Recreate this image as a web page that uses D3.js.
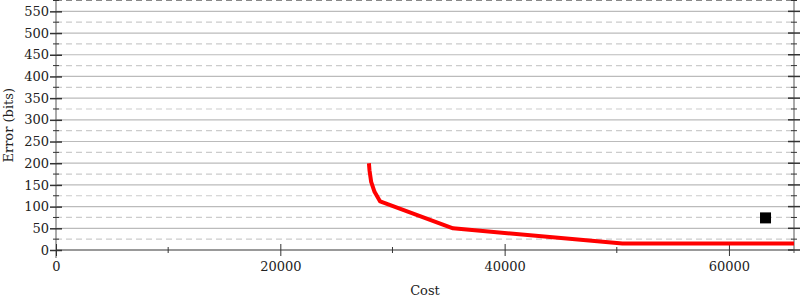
<!DOCTYPE html>
<html>
<head>
<meta charset="utf-8">
<script src="https://cdn.jsdelivr.net/npm/d3@7"></script>
<style>
  body { margin: 0; background: #fff; }
  svg text { font-family: "DejaVu Serif", serif; font-size: 13px; fill: #222; }
</style>
</head>
<body>
<div id="main-container"></div>
<script>
// Data
const costValues = [27900, 27950, 28100, 28400, 28900, 35400, 50500, 65800];
const errorValues = [200, 184, 157, 134, 112, 50, 15, 15];
const pointCost = [63260];
const pointError = [74];
const xTickValues = [0, 20000, 40000, 60000];
const xMinorTicks = [10000, 30000, 50000];
const yTickValues = [0, 50, 100, 150, 200, 250, 300, 350, 400, 450, 500, 550];
const yMinorTicks = [25, 75, 125, 175, 225, 275, 325, 375, 425, 475, 525, 575];

const SVG_WIDTH = 800;
const SVG_HEIGHT = 300;
const MARGIN = { top: 0, right: 6, bottom: 50, left: 56 };

const SVG = d3.select('#main-container').append('svg')
    .attr('width', SVG_WIDTH)
    .attr('height', SVG_HEIGHT);

const x = d3.scaleLinear()
    .domain([0, 65800])
    .range([MARGIN.left, SVG_WIDTH - MARGIN.right]);
const y = d3.scaleLinear()
    .domain([0, 575])
    .range([SVG_HEIGHT - MARGIN.bottom, MARGIN.top + 0.5]);

// Grid lines
SVG.append('g').selectAll('line')
    .data(yTickValues.slice(1))
    .enter().append('line')
    .attr('x1', x(0)).attr('x2', x(65800))
    .attr('y1', d => y(d)).attr('y2', d => y(d))
    .attr('stroke', '#bbb').attr('stroke-width', 1.2);
SVG.append('g').selectAll('line')
    .data(yMinorTicks)
    .enter().append('line')
    .attr('x1', x(0)).attr('x2', x(65800))
    .attr('y1', d => y(d)).attr('y2', d => y(d))
    .attr('stroke', d => d === 575 ? '#888' : '#ccc')
    .attr('stroke-width', 1.2)
    .attr('stroke-dasharray', '6,4');

// Axes lines
SVG.append('line')
    .attr('x1', x(0)).attr('x2', x(0))
    .attr('y1', y(575) - 1).attr('y2', y(0) + 8)
    .attr('stroke', '#aaa').attr('stroke-width', 2);
SVG.append('line')
    .attr('x1', x(65800)).attr('x2', x(65800))
    .attr('y1', y(575) - 1).attr('y2', y(0) + 3)
    .attr('stroke', '#aaa').attr('stroke-width', 2);
SVG.append('line')
    .attr('x1', x(0)).attr('x2', x(65800))
    .attr('y1', y(0)).attr('y2', y(0))
    .attr('stroke', '#999').attr('stroke-width', 2);

// Left axis
const yAxis = d3.axisLeft(y).tickValues(yTickValues).tickSize(6).tickPadding(3);
const yAxisG = SVG.append('g')
    .attr('transform', `translate(${x(0)},0)`)
    .call(yAxis);
yAxisG.select('.domain').remove();
yAxisG.selectAll('.tick line').attr('x2', 6).attr('x1', -6).attr('stroke', '#333').attr('stroke-width', 1.5);
yAxisG.selectAll('.tick text').attr('x', -7).style('font-size', '13px').attr('fill', '#222');
yAxisG.selectAll('.minor').data(yMinorTicks).enter().append('line')
    .attr('x1', -3).attr('x2', 3)
    .attr('y1', d => y(d)).attr('y2', d => y(d))
    .attr('stroke', '#333');

// Right axis (ticks only)
const rightG = SVG.append('g').attr('transform', `translate(${x(65800)},0)`);
rightG.selectAll('.maj').data(yTickValues).enter().append('line')
    .attr('x1', -6).attr('x2', 6)
    .attr('y1', d => y(d)).attr('y2', d => y(d))
    .attr('stroke', '#333').attr('stroke-width', 1.5);
rightG.selectAll('.min').data(yMinorTicks).enter().append('line')
    .attr('x1', -3).attr('x2', 3)
    .attr('y1', d => y(d)).attr('y2', d => y(d))
    .attr('stroke', '#333');

// Bottom axis
const xAxis = d3.axisBottom(x).tickValues(xTickValues).tickFormat(d3.format('d')).tickSize(6).tickPadding(6);
const xAxisG = SVG.append('g')
    .attr('transform', `translate(0,${y(0)})`)
    .call(xAxis);
xAxisG.select('.domain').remove();
xAxisG.selectAll('.tick line').attr('y1', -6).attr('y2', 6).attr('stroke', '#333');
xAxisG.selectAll('.tick text').style('font-size', '13px').attr('fill', '#222');
xAxisG.selectAll('.minor').data(xMinorTicks).enter().append('line')
    .attr('x1', d => x(d)).attr('x2', d => x(d))
    .attr('y1', -3).attr('y2', 3)
    .attr('stroke', '#333');

// Axis titles
SVG.append('text')
    .attr('x', (x(0) + x(65800)) / 2)
    .attr('y', 295)
    .attr('text-anchor', 'middle')
    .text('Cost');
SVG.append('text')
    .attr('transform', `translate(13,${(y(0) + y(575)) / 2}) rotate(-90)`)
    .attr('text-anchor', 'middle')
    .text('Error (bits)');

// Line
const lineData = costValues.map((c, i) => [c, errorValues[i]]);
SVG.append('path')
    .datum(lineData)
    .attr('d', d3.line().x(d => x(d[0])).y(d => y(d[1])))
    .attr('fill', 'none')
    .attr('stroke', 'red')
    .attr('stroke-width', 4)
    .attr('stroke-linejoin', 'round');

// Point
SVG.append('g').selectAll('rect')
    .data(pointCost.map((c, i) => [c, pointError[i]]))
    .enter().append('rect')
    .attr('x', d => x(d[0]) - 5.5)
    .attr('y', d => y(d[1]) - 5.5)
    .attr('width', 11)
    .attr('height', 11)
    .attr('fill', '#000');
</script>
</body>
</html>
